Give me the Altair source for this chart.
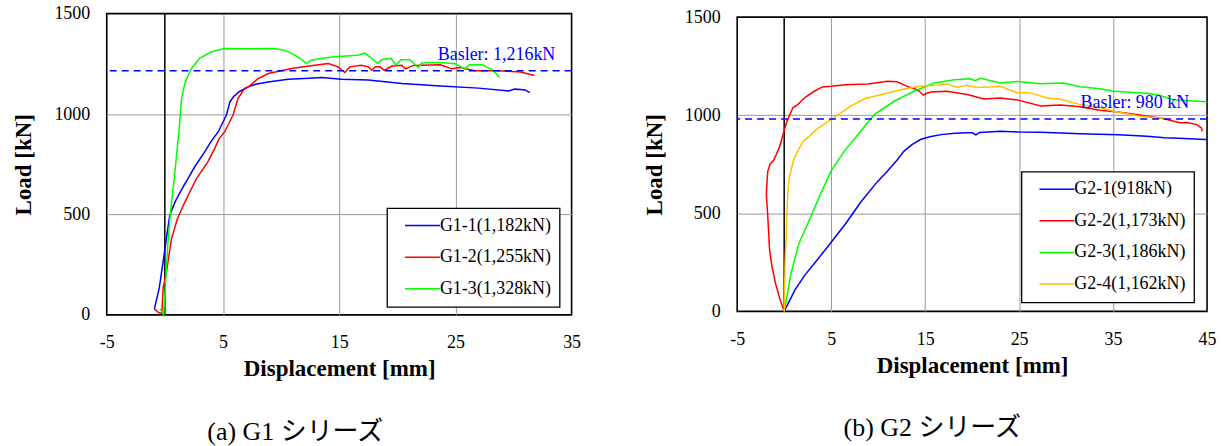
import altair as alt
import pandas as pd

FONT = "Liberation Serif"
CAPFONT = "Liberation Serif, Noto Sans CJK JP"

# ---------------- (a) G1 series ----------------
g1_names = ["G1-1(1,182kN)", "G1-2(1,255kN)", "G1-3(1,328kN)"]
g1_colors = ["#0000FF", "#FF0000", "#00FF00"]

g1_1_x = [-0.9, -0.48, -0.07, 0.42, 0.9, 1.5, 2.0, 2.6, 3.3, 4.0, 4.6, 5.3, 5.6, 5.9, 6.4, 7.2, 7.8,
          8.9, 10.6, 12.0, 13.5, 15.2, 17.5, 20.4, 23.7, 27.0, 29.6, 30.1, 30.6, 31.0, 31.4]
g1_1_y = [30, 134, 296, 496, 565, 630, 680, 740, 800, 865, 912, 995, 1061, 1086, 1111, 1136, 1148,
          1160, 1173, 1177, 1182, 1173, 1169, 1152, 1140, 1129, 1115, 1124, 1122, 1120, 1107]

g1_2_x = [-0.9, -0.55, -0.25, -0.15, 0.09, 0.58, 1.08, 1.73, 2.72, 3.7, 4.3, 4.69, 5.16, 5.87, 6.3,
          6.87, 7.2, 8.0, 8.9, 10.9, 12.9, 14.06, 14.9, 15.5, 15.9, 16.9, 17.5, 17.8, 18.1, 18.5, 18.9,
          19.5, 20.4, 20.7, 21.4, 23.7, 24.7, 25.4, 26.7, 28.7, 30.6, 31.8]
g1_2_y = [30, 12, 8, 134, 196, 380, 479, 563, 679, 762, 830, 879, 912, 995, 1078,
          1128, 1136, 1175, 1202, 1227, 1243, 1252, 1235, 1207, 1235, 1243, 1235, 1218, 1235, 1235, 1218,
          1238, 1243, 1225, 1242, 1245, 1225, 1232, 1216, 1216, 1209, 1192]

g1_3_x = [-0.4, -0.1, 0.25, 0.5, 0.81, 1.21, 1.44, 1.67, 1.87, 2.3, 3.0, 4.0, 5.15, 7.0, 9.4, 10.3,
          11.2, 12.2, 12.6, 13.45, 14.6, 16.6, 17.2, 18.0, 18.3, 18.7, 19.46, 19.9, 20.3, 21.1, 21.8,
          22.1, 23.7, 25.0, 25.8, 26.2, 27.3, 28.2, 28.8]
g1_3_y = [30, 0, 346, 520, 681, 912, 1078, 1140, 1177, 1227, 1277, 1310, 1326, 1325, 1326, 1318,
          1293, 1252, 1268, 1277, 1285, 1293, 1303, 1268, 1252, 1272, 1277, 1243, 1270, 1270, 1232,
          1254, 1257, 1250, 1224, 1245, 1245, 1220, 1182]

g1_basler = [1216]
g1_basler_label = ["Basler: 1,216kN"]
g1_xticks = [-5, 5, 15, 25, 35]

# ---------------- (b) G2 series ----------------
g2_names = ["G2-1(918kN)", "G2-2(1,173kN)", "G2-3(1,186kN)", "G2-4(1,162kN)"]
g2_colors = ["#0000FF", "#FF0000", "#00FF00", "#FFC000"]

g2_1_x = [0.0, 1.15, 2.2, 3.23, 4.9, 6.55, 8.2, 9.9, 11.0, 12.0, 12.76, 13.6, 14.5, 15.5, 16.7, 18.2,
          19.5, 20.0, 20.4, 20.8, 23.0, 25.1, 27.3, 31.5, 35.6, 38.6, 40.5, 42.0, 44.8, 45.0]
g2_1_y = [0, 110, 185, 245, 346, 448, 560, 660, 715, 770, 817, 850, 876, 890, 901, 908,
          910, 910, 900, 912, 918, 914, 913, 905, 900, 893, 885, 882, 876, 876]

g2_2_x = [0.0, -0.5, -0.93, -1.3, -1.55, -1.76, -1.9, -1.8, -1.74, -1.5, -1.13, -0.51, -0.1, 0.02,
          0.32, 0.94, 1.44, 2.2, 3.2, 4.06, 5.0, 6.5, 8.9, 11.0, 12.0, 13.1, 14.0, 14.4, 14.8, 15.2,
          15.6, 17.3, 19.5, 21.25, 23.0, 24.8, 27.3, 29.4, 31.5, 33.6, 35.3, 37.7, 38.6, 40.3, 42.1,
          42.9, 43.9, 44.4, 44.5]
g2_2_y = [0, 70, 144, 230, 312, 498, 596, 680, 715, 750, 769, 836, 904, 927,
          971, 1039, 1054, 1090, 1122, 1144, 1147, 1155, 1159, 1173, 1170, 1147, 1132, 1122, 1102, 1112,
          1118, 1122, 1105, 1083, 1088, 1078, 1047, 1052, 1043, 1025, 1018, 1002, 995, 983, 961,
          963, 952, 935, 918]

g2_3_x = [0.0, 0.73, 1.57, 2.9, 3.74, 4.98, 6.4, 8.16, 9.58, 11.7, 13.8, 16.0, 18.1, 19.8, 20.3,
          20.9, 23.0, 24.8, 27.3, 29.8, 31.5, 33.6, 35.05, 38.6, 40.0, 41.4, 43.0, 45.0]
g2_3_y = [0, 194, 346, 490, 585, 715, 817, 919, 1003, 1071, 1122, 1164, 1181, 1186, 1176,
          1188, 1164, 1172, 1160, 1164, 1145, 1135, 1122, 1112, 1100, 1079, 1074, 1069]

g2_4_x = [0.0, 0.1, 0.24, 0.38, 0.53, 1.0, 1.44, 2.0, 2.86, 3.5, 4.98, 6.0, 7.1, 8.6, 11.0, 12.4,
          14.5, 16.0, 17.3, 18.4, 19.4, 20.3, 21.25, 23.0, 24.8, 26.1, 28.0, 29.4, 31.5, 33.6, 35.05,
          37.9, 40.3]
g2_4_y = [0, 250, 414, 596, 680, 770, 817, 865, 901, 930, 978, 1010, 1046, 1085, 1113, 1130,
          1147, 1152, 1159, 1142, 1152, 1144, 1142, 1147, 1115, 1115, 1088, 1081, 1054, 1039, 1020,
          995, 983]

g2_basler = [980]
g2_basler_label = ["Basler: 980 kN"]
g2_xticks = [-5, 5, 15, 25, 35, 45]

yticks = [0, 500, 1000, 1500]
zero_line = [0]


def curves(names, xs_list, ys_list):
    rows = []
    for n, xs, ys in zip(names, xs_list, ys_list):
        for i, (x, y) in enumerate(zip(xs, ys)):
            rows.append({"series": n, "x": x, "y": y, "i": i})
    return pd.DataFrame(rows)


def panel(df, names, colors, xticks, width, height, basler, basler_label, text_x,
          legend_x, legend_y, caption, cap_dx):
    xdom = [xticks[0], xticks[-1]]
    ydom = [yticks[0], yticks[-1]]
    xscale = alt.Scale(domain=xdom, nice=False, zero=False)
    yscale = alt.Scale(domain=ydom, nice=False)
    xaxis = alt.Axis(
        values=xticks, grid=True, gridColor="#9A9A9A", gridWidth=1,
        gridOpacity={"condition": {"test": f"datum.value == {xdom[0]} || datum.value == {xdom[1]}",
                                   "value": 0}, "value": 1},
        ticks=False, domain=False, labelFont=FONT, labelFontSize=18, labelColor="black",
        labelExpr="'' + datum.value",
        labelPadding=19, labelFlush=False, title="Displacement [mm]", titleFont=FONT,
        titleFontSize=23, titleFontWeight="bold", titleColor="black", titlePadding=6)
    yaxis = alt.Axis(
        values=yticks, grid=True, gridColor="#9A9A9A", gridWidth=1,
        gridOpacity={"condition": {"test": f"datum.value == {ydom[0]} || datum.value == {ydom[1]}",
                                   "value": 0}, "value": 1},
        ticks=False, domain=False, labelFont=FONT, labelFontSize=18, labelColor="black",
        labelExpr="'' + datum.value",
        labelPadding=17, labelFlush=False, title="Load [kN]", titleFont=FONT,
        titleFontSize=23, titleFontWeight="bold", titleColor="black", titlePadding=18)

    zero = alt.Chart(pd.DataFrame({"x": zero_line})).mark_rule(
        color="black", strokeWidth=1.5).encode(
        x=alt.X("x:Q", scale=xscale, axis=xaxis))

    lines = alt.Chart(df).mark_line(strokeWidth=1.5).encode(
        x=alt.X("x:Q", scale=xscale, axis=xaxis),
        y=alt.Y("y:Q", scale=yscale, axis=yaxis),
        color=alt.Color("series:N", scale=alt.Scale(domain=names, range=colors),
                        sort=names,
                        legend=alt.Legend(
                            title=None, orient="none", legendX=legend_x, legendY=legend_y,
                            symbolType="M0.25,0H17.75", symbolSize=16, symbolStrokeWidth=1.5,
                            labelOffset=26.5, labelFont=FONT, labelFontSize=18,
                            labelColor="black", rowPadding=13.7, padding=8.5,
                            strokeColor="black", fillColor="white")),
        order=alt.Order("i:Q"),
    )

    bdf = pd.DataFrame({"y": basler, "label": basler_label, "x": [text_x]})
    brule = alt.Chart(bdf).mark_rule(color="#0000FF", strokeWidth=1.5,
                                     strokeDash=[7, 5]).encode(
        y=alt.Y("y:Q", scale=yscale, axis=yaxis))
    btext = alt.Chart(bdf).mark_text(
        align="right", baseline="alphabetic", dy=-11, font=FONT, fontSize=18,
        color="#0000FF").encode(
        x=alt.X("x:Q", scale=xscale, axis=xaxis),
        y=alt.Y("y:Q", scale=yscale, axis=yaxis),
        text="label:N")

    return alt.layer(zero, lines, brule, btext).properties(
        width=width, height=height,
        title=alt.TitleParams(caption, orient="bottom", anchor="middle", offset=38, dx=cap_dx,
                              font=CAPFONT, fontSize=26, fontWeight="normal", color="black"))


df1 = curves(g1_names, [g1_1_x, g1_2_x, g1_3_x], [g1_1_y, g1_2_y, g1_3_y])
df2 = curves(g2_names, [g2_1_x, g2_2_x, g2_3_x, g2_4_x], [g2_1_y, g2_2_y, g2_3_y, g2_4_y])

left = panel(df1, g1_names, g1_colors, g1_xticks, 466, 302, g1_basler, g1_basler_label, 33.6,
             281, 195, "(a) G1 シリーズ", -44)
right = panel(df2, g2_names, g2_colors, g2_xticks, 471, 295, g2_basler, g2_basler_label, 43.1,
              285, 155, "(b) G2 シリーズ", -40)

chart = alt.hconcat(left, right, spacing=61, center=True).resolve_scale(
    color="independent", x="independent", y="independent").resolve_legend(
    color="independent").properties(
    padding={"left": 12, "top": 3, "right": 5, "bottom": 0}
).configure(font=FONT).configure_view(stroke="black", strokeWidth=1.6).configure_legend(
    strokeWidth=1.3)

chart.save("out.html", embed_options={"renderer": "svg", "actions": False})
